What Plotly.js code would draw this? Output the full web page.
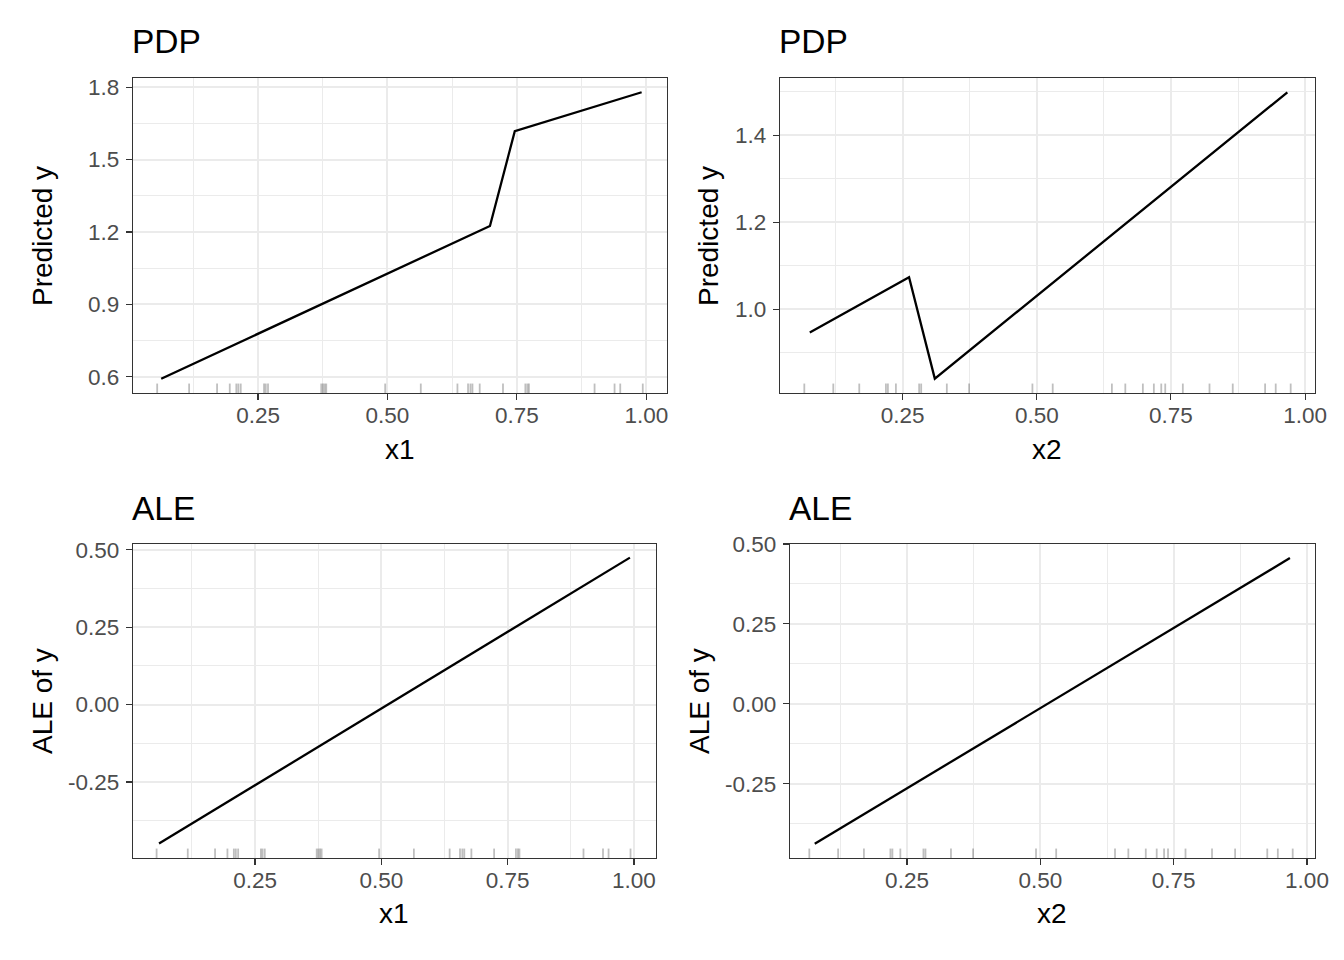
<!DOCTYPE html>
<html>
<head>
<meta charset="utf-8">
<script src="https://cdn.plot.ly/plotly-3.0.1.min.js"></script>
<style>html,body{margin:0;padding:0;background:#fff;}#chart{width:1344px;height:960px;}</style>
</head>
<body>
<div id="chart"></div>
<script>
// ---- data ----
const pdpX1_x = [0.063, 0.698, 0.746, 0.991];
const pdpX1_y = [0.592, 1.225, 1.618, 1.779];
const pdpX2_x = [0.077, 0.262, 0.310, 0.967];
const pdpX2_y = [0.947, 1.074, 0.841, 1.499];
const aleX1_x = [0.060, 0.992];
const aleX1_y = [-0.449, 0.475];
const aleX2_x = [0.077, 0.968];
const aleX2_y = [-0.4375, 0.456];

// rug: observed feature values
const rugX1 = [0.0552, 0.1169, 0.1709, 0.1954, 0.2081, 0.2120, 0.2166, 0.2616, 0.2649, 0.2693,
  0.3721, 0.3754, 0.3787, 0.3818, 0.4956, 0.5644, 0.6352, 0.6557, 0.6603, 0.6642, 0.6782,
  0.7232, 0.7664, 0.7703, 0.7733, 0.9001, 0.9387, 0.9497, 0.9932];
const rugX2 = [0.0668, 0.1208, 0.1692, 0.2189, 0.2226, 0.2375, 0.2808, 0.2846, 0.3324, 0.3739,
  0.4919, 0.5297, 0.6400, 0.6650, 0.6977, 0.7182, 0.7320, 0.7394, 0.7722, 0.8219, 0.8652,
  0.9255, 0.9453, 0.9732];

// ticks
const xTickVals = [0.25, 0.5, 0.75, 1.0];
const xTickText = ['0.25', '0.50', '0.75', '1.00'];
const pdp1TickVals = [0.6, 0.9, 1.2, 1.5, 1.8];
const pdp1TickText = ['0.6', '0.9', '1.2', '1.5', '1.8'];
const pdp2TickVals = [1.0, 1.2, 1.4];
const pdp2TickText = ['1.0', '1.2', '1.4'];
const aleTickVals = [-0.25, 0, 0.25, 0.5];
const aleTickText = ['-0.25', '0.00', '0.25', '0.50'];

// ---- layout helpers ----
const W = 1344, H = 960;
const FONT = 'Liberation Sans, Arial, Helvetica, sans-serif';
const px = v => v / W;
const py = v => 1 - v / H;

function xAxis(dom, range, anchor) {
  return {
    domain: [px(dom[0]), px(dom[1])], range: range, anchor: anchor,
    tickmode: 'array', tickvals: xTickVals, ticktext: xTickText,
    showline: true, mirror: true, linecolor: '#333333', linewidth: 1.1,
    ticks: 'outside', ticklen: 6, tickwidth: 1.1, tickcolor: '#333333',
    ticklabelstandoff: -4,
    tickfont: {family: FONT, size: 22.5, color: '#4D4D4D'},
    showgrid: true, gridcolor: '#EBEBEB', gridwidth: 2, zeroline: false,
    minor: {tickmode: 'linear', tick0: 0, dtick: 0.125, showgrid: true, gridcolor: '#EBEBEB', gridwidth: 1, ticks: ''},
    fixedrange: true
  };
}
function yAxis(dom, range, anchor, tv, tt, mdt) {
  return {
    domain: [py(dom[1]), py(dom[0])], range: range, anchor: anchor,
    tickmode: 'array', tickvals: tv, ticktext: tt,
    showline: true, mirror: true, linecolor: '#333333', linewidth: 1.1,
    ticks: 'outside', ticklen: 6, tickwidth: 1.1, tickcolor: '#333333',
    ticklabelstandoff: 2,
    tickfont: {family: FONT, size: 22.5, color: '#4D4D4D'},
    showgrid: true, gridcolor: '#EBEBEB', gridwidth: 2, zeroline: false,
    minor: {tickmode: 'linear', tick0: 0, dtick: mdt, showgrid: true, gridcolor: '#EBEBEB', gridwidth: 1, ticks: ''},
    fixedrange: true
  };
}

const lineStyle = {color: '#000000', width: 2.3};
const traces = [
  {x: pdpX1_x, y: pdpX1_y, xaxis: 'x', yaxis: 'y', type: 'scatter', mode: 'lines', line: lineStyle, hoverinfo: 'skip'},
  {x: pdpX2_x, y: pdpX2_y, xaxis: 'x2', yaxis: 'y2', type: 'scatter', mode: 'lines', line: lineStyle, hoverinfo: 'skip'},
  {x: aleX1_x, y: aleX1_y, xaxis: 'x3', yaxis: 'y3', type: 'scatter', mode: 'lines', line: lineStyle, hoverinfo: 'skip'},
  {x: aleX2_x, y: aleX2_y, xaxis: 'x4', yaxis: 'y4', type: 'scatter', mode: 'lines', line: lineStyle, hoverinfo: 'skip'}
];

function rug(vals, xr, yr) {
  return vals.map(v => ({
    type: 'line', xref: xr, yref: yr + ' domain', x0: v, x1: v, y0: 0, y1: 0.03,
    line: {color: 'rgba(0,0,0,0.25)', width: 1.8}, layer: 'above'
  }));
}
const shapes = [].concat(rug(rugX1, 'x', 'y'), rug(rugX2, 'x2', 'y2'), rug(rugX1, 'x3', 'y3'), rug(rugX2, 'x4', 'y4'));

function ann(text, x, y, size, opts) {
  return Object.assign({text: text, xref: 'paper', yref: 'paper', x: px(x), y: py(y),
    showarrow: false, font: {family: FONT, size: size, color: '#000000'},
    xanchor: 'center', yanchor: 'middle', borderpad: 0}, opts || {});
}
const annotations = [
  ann('PDP', 131, 42, 33.5, {xanchor: 'left'}),
  ann('PDP', 778, 42, 33.5, {xanchor: 'left'}),
  ann('ALE', 131, 508, 33.5, {xanchor: 'left'}),
  ann('ALE', 788, 508, 33.5, {xanchor: 'left'}),
  ann('x1', 400, 449, 28),
  ann('x2', 1047, 449, 28),
  ann('x1', 394, 913, 28),
  ann('x2', 1052, 913, 28),
  ann('Predicted y', 42, 236, 28, {textangle: -90}),
  ann('Predicted y', 708, 236, 28, {textangle: -90}),
  ann('ALE of y', 42, 701, 28, {textangle: -90}),
  ann('ALE of y', 699, 701, 28, {textangle: -90})
];

const layout = {
  width: W, height: H, margin: {l: 0, r: 0, t: 0, b: 0},
  paper_bgcolor: '#ffffff', plot_bgcolor: '#ffffff', showlegend: false,
  font: {family: FONT},
  xaxis: xAxis([133, 667], [0.0085, 1.040], 'y'),
  yaxis: yAxis([78, 393], [0.533, 1.838], 'x', pdp1TickVals, pdp1TickText, 0.15),
  xaxis2: xAxis([780, 1315], [0.0215, 1.0185], 'y2'),
  yaxis2: yAxis([78, 393], [0.808, 1.532], 'x2', pdp2TickVals, pdp2TickText, 0.1),
  xaxis3: xAxis([133, 656], [0.0085, 1.0436], 'y3'),
  yaxis3: yAxis([544, 858], [-0.4957, 0.519], 'x3', aleTickVals, aleTickText, 0.125),
  xaxis4: xAxis([790, 1315], [0.0306, 1.015], 'y4'),
  yaxis4: yAxis([544, 858], [-0.482, 0.500], 'x4', aleTickVals, aleTickText, 0.125),
  shapes: shapes,
  annotations: annotations
};

Plotly.newPlot('chart', traces, layout, {staticPlot: true, displayModeBar: false});
</script>
</body>
</html>
